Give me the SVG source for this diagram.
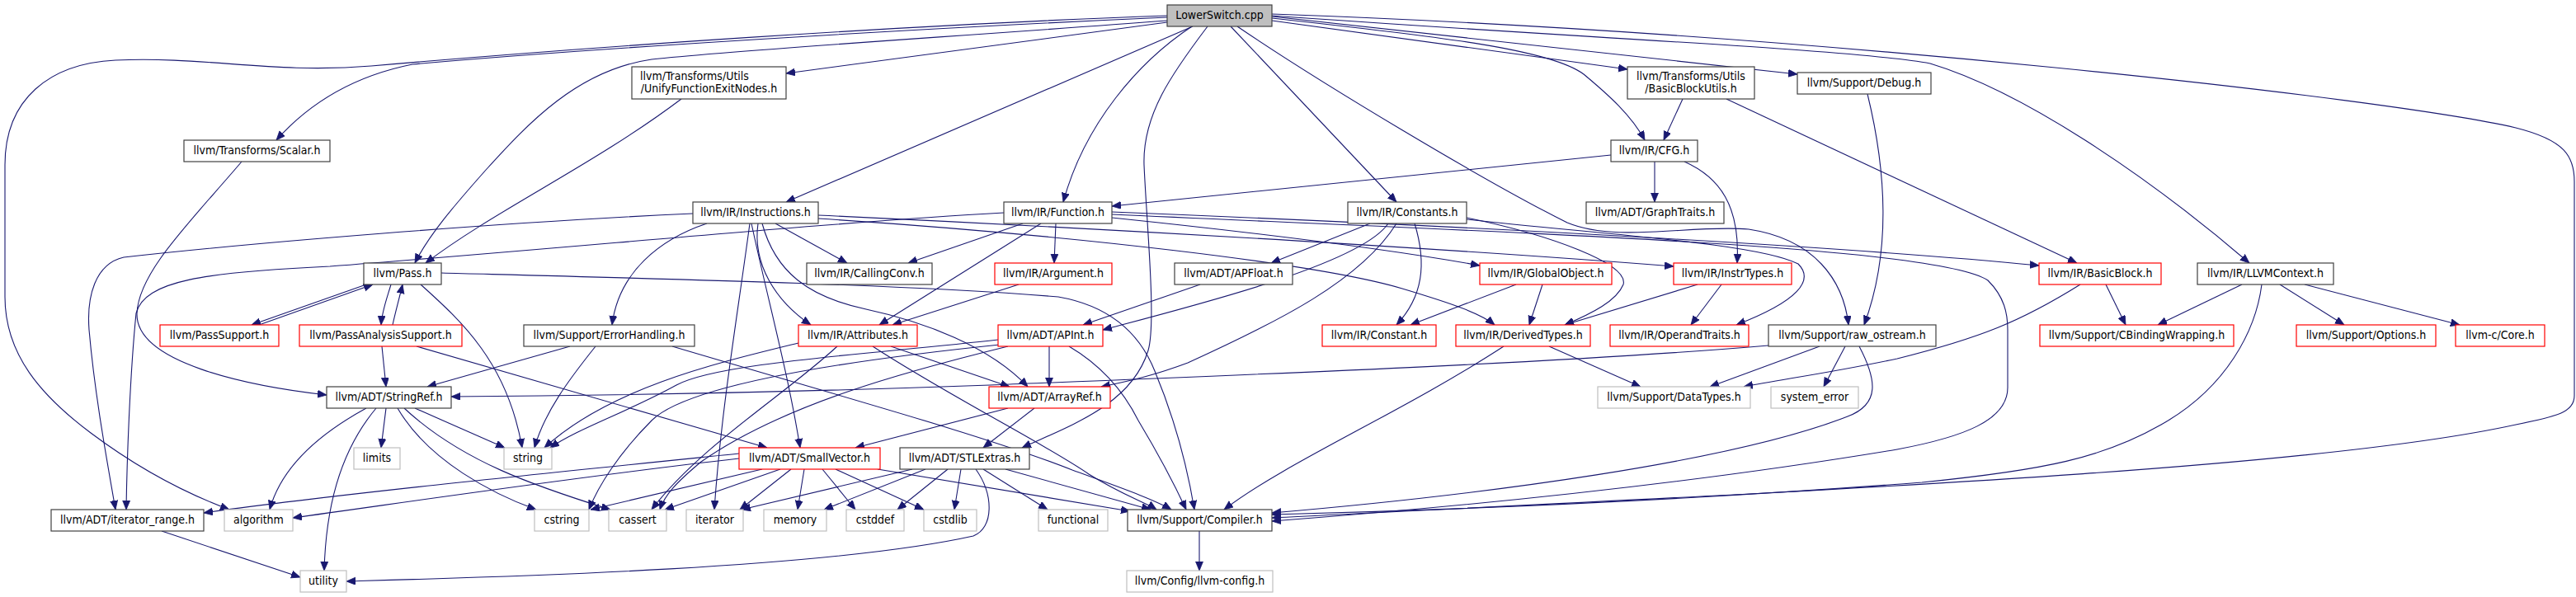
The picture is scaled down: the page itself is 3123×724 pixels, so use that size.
<svg xmlns="http://www.w3.org/2000/svg" width="3123" height="724" viewBox="0 0 3123 724">
<defs>
<style>
rect{stroke-width:1.2}
.b{fill:#fff;stroke:#404040}
.root{fill:#bfbfbf;stroke:#404040}
.r{fill:#fff;stroke:#ff0000}
.g{fill:#fff;stroke:#bfbfbf}
text{font-family:"DejaVu Sans Condensed","DejaVu Sans",sans-serif;font-stretch:condensed;font-size:14px;fill:#000;text-anchor:middle}
text.l{text-anchor:start}
#edges path{fill:none;stroke:#191970;stroke-width:1.1;marker-end:url(#a)}
</style>
<marker id="a" markerUnits="userSpaceOnUse" markerWidth="12" markerHeight="10" refX="11" refY="4.5" orient="auto"><path d="M0,0 L11,4.5 L0,9 z" fill="#191970" stroke="#191970" stroke-width="0.8"/></marker>
</defs>
<rect width="3123" height="724" fill="#fff"/>
<g id="edges">
<path d="M1415,27 C1250,48 1100,68 953,89"/>
<path d="M1415,21 C1100,35 700,60 500,78 C430,92 375,125 335,170"/>
<path d="M1415,19 C1100,30 700,58 450,80 C330,90 250,68 140,73 C60,77 6,120 6,200 L6,360 C6,430 50,480 110,525 C170,570 230,600 278,618"/>
<path d="M1415,25 C1150,45 900,60 790,72 C700,85 640,150 590,205 C550,250 520,285 503,319"/>
<path d="M826,120 C720,200 600,255 516,319"/>
<path d="M1446,32 L953,245"/>
<path d="M1445,32 C1380,75 1315,150 1289,245"/>
<path d="M1464,32 C1420,90 1385,140 1387,200 C1390,270 1402,390 1392,425 C1372,490 1300,515 1239,543"/>
<path d="M1492,32 L1693,245"/>
<path d="M1500,32 C1600,100 1800,220 1900,270 C1960,295 2050,272 2120,278 C2200,290 2235,340 2241,394"/>
<path d="M1542,22 C1750,45 1880,60 1920,90 C1950,115 1978,140 1994,170"/>
<path d="M1542,25 L1973,84"/>
<path d="M1542,20 L2179,90"/>
<path d="M1542,19 C1900,45 2250,60 2340,77 C2450,110 2600,210 2727,319"/>
<path d="M1542,17 C2200,40 2900,120 3050,155 C3110,170 3121,190 3121,220 L3121,480 C3121,500 3100,505 3050,515 C2800,570 2200,595 1542,628"/>
<path d="M293,196 C230,270 168,330 166,380 C164,440 300,468 396,479"/>
<path d="M444,345 L305,394"/>
<path d="M314,394 L452,345"/>
<path d="M474,345 C468,365 463,378 462,394"/>
<path d="M476,394 C479,380 484,362 488,345"/>
<path d="M510,345 C560,390 615,440 633,543"/>
<path d="M535,331 C800,338 1100,345 1283,360 C1340,370 1380,400 1400,450 C1425,510 1440,570 1448,618"/>
<path d="M463,420 L468,469"/>
<path d="M505,420 L930,543"/>
<path d="M840,259 C600,270 300,295 150,312 C115,320 105,360 108,400 C115,480 130,560 140,618"/>
<path d="M1217,258 C1000,270 700,300 400,323 C250,330 175,340 165,380 C158,450 154,550 153,618"/>
<path d="M857,271 C800,290 750,330 742,394"/>
<path d="M940,271 L1027,319"/>
<path d="M919,271 C912,320 940,365 983,394"/>
<path d="M911,271 C930,360 955,450 970,543"/>
<path d="M909,271 C893,390 874,500 866,618"/>
<path d="M924,271 C940,330 980,360 1050,375 C1120,390 1200,420 1246,469"/>
<path d="M992,261 C1400,280 1800,305 2029,323"/>
<path d="M992,265 C1300,285 1600,320 1700,350 C1760,368 1795,380 1812,394"/>
<path d="M1240,271 L1101,319"/>
<path d="M1262,271 L1066,394"/>
<path d="M1280,271 L1278,319"/>
<path d="M1348,264 C1550,285 1700,305 1794,322"/>
<path d="M1348,257 C1800,275 2250,300 2472,322"/>
<path d="M1348,260 C1900,285 2350,300 2410,340 C2430,360 2434,380 2434,400 L2434,470 C2434,510 2380,530 2300,545 C2000,595 1700,620 1542,632"/>
<path d="M1953,188 L1348,250"/>
<path d="M2006,196 L2006,245"/>
<path d="M2042,196 C2085,215 2110,250 2106,319"/>
<path d="M2040,120 L2017,170"/>
<path d="M2093,120 L2518,319"/>
<path d="M2264,114 C2285,200 2295,300 2260,394"/>
<path d="M1661,271 L1541,319"/>
<path d="M1455,345 L1313,394"/>
<path d="M1683,271 C1650,320 1450,370 1337,400"/>
<path d="M1693,271 C1650,340 1550,390 1440,440 C1400,455 1370,462 1335,469"/>
<path d="M1715,271 C1730,320 1725,360 1693,394"/>
<path d="M1778,264 C1880,285 1975,320 1968,345 C1960,365 1930,380 1897,394"/>
<path d="M1778,266 C1950,285 2130,295 2180,320 C2200,340 2180,365 2105,394"/>
<path d="M1235,345 L1082,394"/>
<path d="M1838,345 L1710,394"/>
<path d="M1870,345 L1854,394"/>
<path d="M2058,345 L1897,394"/>
<path d="M2087,345 L2050,394"/>
<path d="M2553,345 L2577,394"/>
<path d="M2522,345 C2450,390 2400,410 2300,435 C2220,452 2160,460 2114,469"/>
<path d="M2718,345 L2616,394"/>
<path d="M2764,345 L2842,394"/>
<path d="M2794,345 L2982,394"/>
<path d="M2742,345 C2735,400 2700,470 2620,515 C2550,555 2480,570 2330,585 C2000,610 1700,620 1542,624"/>
<path d="M691,420 L518,469"/>
<path d="M722,420 C690,460 660,500 648,543"/>
<path d="M815,420 C1000,475 1200,530 1300,570 C1360,592 1400,606 1420,618"/>
<path d="M1080,420 L1224,469"/>
<path d="M968,416 C870,440 740,470 660,543"/>
<path d="M1015,420 C950,480 850,540 790,618"/>
<path d="M1058,420 C1150,480 1270,540 1320,575 C1360,600 1390,610 1402,618"/>
<path d="M1272,420 L1272,469"/>
<path d="M1210,412 C1050,430 870,440 820,467 C760,500 700,520 667,543"/>
<path d="M1212,418 C1000,440 830,470 790,510 C750,550 725,590 714,618"/>
<path d="M1222,420 C1100,450 950,490 850,560 C820,585 806,600 800,618"/>
<path d="M1296,420 C1330,440 1360,470 1380,510 C1410,560 1425,590 1438,618"/>
<path d="M1878,420 L1989,469"/>
<path d="M1823,420 C1700,500 1560,560 1484,618"/>
<path d="M2144,419 C1900,440 1500,455 1200,467 C900,478 700,480 547,481"/>
<path d="M2206,420 L2073,469"/>
<path d="M2237,420 L2211,469"/>
<path d="M2254,420 C2275,460 2280,490 2240,505 C2100,560 1800,600 1542,622"/>
<path d="M444,495 C380,530 340,570 327,618"/>
<path d="M456,495 C410,550 395,620 393,692"/>
<path d="M468,495 L462,543"/>
<path d="M503,495 L612,543"/>
<path d="M482,495 C520,560 600,600 650,618"/>
<path d="M490,495 C560,560 650,590 740,618"/>
<path d="M1222,495 L1037,543"/>
<path d="M1254,495 L1192,543"/>
<path d="M896,550 C700,570 400,600 247,622"/>
<path d="M896,556 C700,578 500,608 355,628"/>
<path d="M924,569 L716,618"/>
<path d="M946,569 L806,618"/>
<path d="M959,569 L897,618"/>
<path d="M975,569 L967,618"/>
<path d="M997,569 L1037,618"/>
<path d="M1013,569 L1120,618"/>
<path d="M1064,569 L1370,620"/>
<path d="M1106,569 L899,618"/>
<path d="M1122,569 L999,618"/>
<path d="M1149,569 L1088,618"/>
<path d="M1165,569 L1157,618"/>
<path d="M1183,569 C1205,600 1205,640 1180,650 C1000,690 600,700 420,705"/>
<path d="M1192,569 L1270,618"/>
<path d="M1219,569 L1395,618"/>
<path d="M196,644 L364,700"/>
<path d="M1454,644 L1454,692"/>
</g>
<g id="n0"><rect class="root" x="1415" y="6" width="127" height="26"/><text x="1478.5" y="23">LowerSwitch.cpp</text></g>
<g id="n1"><rect class="b" x="766" y="81" width="187" height="39"/><text class="l" x="776" y="97">llvm/Transforms/Utils</text><text x="859.5" y="112">/UnifyFunctionExitNodes.h</text></g>
<g id="n2"><rect class="b" x="223" y="170" width="177" height="26"/><text x="311.5" y="187">llvm/Transforms/Scalar.h</text></g>
<g id="n3"><rect class="b" x="441" y="319" width="94" height="26"/><text x="488" y="336">llvm/Pass.h</text></g>
<g id="n4"><rect class="b" x="840" y="245" width="152" height="26"/><text x="916" y="262">llvm/IR/Instructions.h</text></g>
<g id="n5"><rect class="b" x="1217" y="245" width="131" height="26"/><text x="1282.5" y="262">llvm/IR/Function.h</text></g>
<g id="n6"><rect class="b" x="1634" y="245" width="144" height="26"/><text x="1706" y="262">llvm/IR/Constants.h</text></g>
<g id="n7"><rect class="b" x="1973" y="81" width="154" height="39"/><text class="l" x="1984" y="97">llvm/Transforms/Utils</text><text x="2050" y="112">/BasicBlockUtils.h</text></g>
<g id="n8"><rect class="b" x="2179" y="88" width="162" height="26"/><text x="2260" y="105">llvm/Support/Debug.h</text></g>
<g id="n9"><rect class="b" x="1953" y="170" width="105" height="26"/><text x="2005.5" y="187">llvm/IR/CFG.h</text></g>
<g id="n10"><rect class="b" x="1923" y="245" width="167" height="26"/><text x="2006.5" y="262">llvm/ADT/GraphTraits.h</text></g>
<g id="n11"><rect class="b" x="978" y="319" width="152" height="26"/><text x="1054" y="336">llvm/IR/CallingConv.h</text></g>
<g id="n12"><rect class="r" x="1206" y="319" width="142" height="26"/><text x="1277" y="336">llvm/IR/Argument.h</text></g>
<g id="n13"><rect class="b" x="1424" y="319" width="143" height="26"/><text x="1495.5" y="336">llvm/ADT/APFloat.h</text></g>
<g id="n14"><rect class="r" x="1794" y="319" width="160" height="26"/><text x="1874" y="336">llvm/IR/GlobalObject.h</text></g>
<g id="n15"><rect class="r" x="2029" y="319" width="143" height="26"/><text x="2100.5" y="336">llvm/IR/InstrTypes.h</text></g>
<g id="n16"><rect class="r" x="2472" y="319" width="148" height="26"/><text x="2546" y="336">llvm/IR/BasicBlock.h</text></g>
<g id="n17"><rect class="b" x="2664" y="319" width="165" height="26"/><text x="2746.5" y="336">llvm/IR/LLVMContext.h</text></g>
<g id="n18"><rect class="r" x="194" y="394" width="144" height="26"/><text x="266" y="411">llvm/PassSupport.h</text></g>
<g id="n19"><rect class="r" x="363" y="394" width="197" height="26"/><text x="461.5" y="411">llvm/PassAnalysisSupport.h</text></g>
<g id="n20"><rect class="b" x="635" y="394" width="207" height="26"/><text x="738.5" y="411">llvm/Support/ErrorHandling.h</text></g>
<g id="n21"><rect class="r" x="968" y="394" width="144" height="26"/><text x="1040" y="411">llvm/IR/Attributes.h</text></g>
<g id="n22"><rect class="r" x="1210" y="394" width="127" height="26"/><text x="1273.5" y="411">llvm/ADT/APInt.h</text></g>
<g id="n23"><rect class="r" x="1603" y="394" width="138" height="26"/><text x="1672" y="411">llvm/IR/Constant.h</text></g>
<g id="n24"><rect class="r" x="1765" y="394" width="163" height="26"/><text x="1846.5" y="411">llvm/IR/DerivedTypes.h</text></g>
<g id="n25"><rect class="r" x="1952" y="394" width="168" height="26"/><text x="2036" y="411">llvm/IR/OperandTraits.h</text></g>
<g id="n26"><rect class="b" x="2144" y="394" width="203" height="26"/><text x="2245.5" y="411">llvm/Support/raw_ostream.h</text></g>
<g id="n27"><rect class="r" x="2473" y="394" width="235" height="26"/><text x="2590.5" y="411">llvm/Support/CBindingWrapping.h</text></g>
<g id="n28"><rect class="r" x="2784" y="394" width="169" height="26"/><text x="2868.5" y="411">llvm/Support/Options.h</text></g>
<g id="n29"><rect class="r" x="2977" y="394" width="108" height="26"/><text x="3031" y="411">llvm-c/Core.h</text></g>
<g id="n30"><rect class="b" x="396" y="469" width="151" height="26"/><text x="471.5" y="486">llvm/ADT/StringRef.h</text></g>
<g id="n31"><rect class="r" x="1199" y="469" width="147" height="26"/><text x="1272.5" y="486">llvm/ADT/ArrayRef.h</text></g>
<g id="n32"><rect class="g" x="1937" y="469" width="185" height="26"/><text x="2029.5" y="486">llvm/Support/DataTypes.h</text></g>
<g id="n33"><rect class="g" x="2147" y="469" width="106" height="26"/><text x="2200" y="486">system_error</text></g>
<g id="n34"><rect class="g" x="429" y="543" width="56" height="26"/><text x="457" y="560">limits</text></g>
<g id="n35"><rect class="g" x="611" y="543" width="58" height="26"/><text x="640" y="560">string</text></g>
<g id="n36"><rect class="r" x="896" y="543" width="171" height="26"/><text x="981.5" y="560">llvm/ADT/SmallVector.h</text></g>
<g id="n37"><rect class="b" x="1091" y="543" width="157" height="26"/><text x="1169.5" y="560">llvm/ADT/STLExtras.h</text></g>
<g id="n38"><rect class="b" x="62" y="618" width="185" height="26"/><text x="154.5" y="635">llvm/ADT/iterator_range.h</text></g>
<g id="n39"><rect class="g" x="272" y="618" width="83" height="26"/><text x="313.5" y="635">algorithm</text></g>
<g id="n40"><rect class="g" x="648" y="618" width="66" height="26"/><text x="681" y="635">cstring</text></g>
<g id="n41"><rect class="g" x="738" y="618" width="70" height="26"/><text x="773" y="635">cassert</text></g>
<g id="n42"><rect class="g" x="832" y="618" width="69" height="26"/><text x="866.5" y="635">iterator</text></g>
<g id="n43"><rect class="g" x="926" y="618" width="76" height="26"/><text x="964" y="635">memory</text></g>
<g id="n44"><rect class="g" x="1026" y="618" width="70" height="26"/><text x="1061" y="635">cstddef</text></g>
<g id="n45"><rect class="g" x="1120" y="618" width="64" height="26"/><text x="1152" y="635">cstdlib</text></g>
<g id="n46"><rect class="g" x="1259" y="618" width="84" height="26"/><text x="1301" y="635">functional</text></g>
<g id="n47"><rect class="b" x="1367" y="618" width="175" height="26"/><text x="1454.5" y="635">llvm/Support/Compiler.h</text></g>
<g id="n48"><rect class="g" x="364" y="692" width="56" height="26"/><text x="392" y="709">utility</text></g>
<g id="n49"><rect class="g" x="1366" y="692" width="177" height="26"/><text x="1454.5" y="709">llvm/Config/llvm-config.h</text></g>
</svg>
